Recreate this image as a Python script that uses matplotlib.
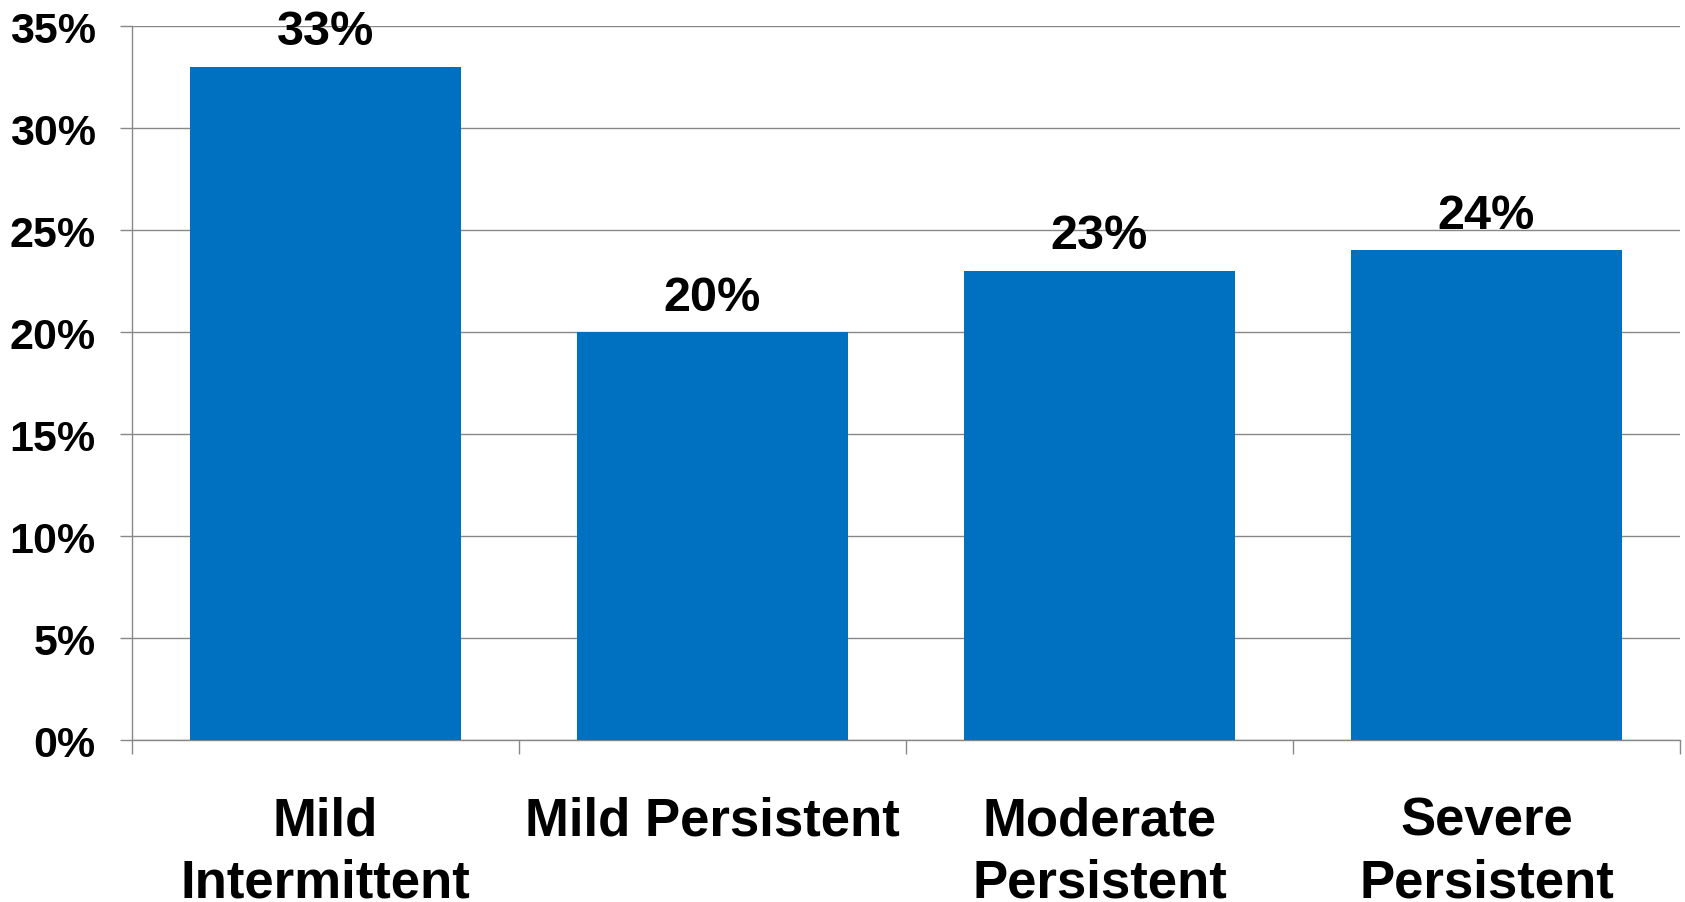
import numpy as np
import matplotlib.pyplot as plt

categories = ["Mild\nIntermittent", "Mild Persistent", "Moderate\nPersistent", "Severe\nPersistent"]
values = [33, 20, 23, 24]
yticks = [0, 5, 10, 15, 20, 25, 30, 35]

plt.rcParams['font.family'] = ['Liberation Sans', 'DejaVu Sans']
plt.rcParams['font.weight'] = 'bold'

fig = plt.figure(figsize=(16.85, 9.03), dpi=100)
ax = fig.add_axes([0.0783, 0.1794, 0.9187, 0.7906])

x = np.arange(len(categories))
bars = ax.bar(x, values, width=0.70, color='#0070C0', zorder=3)

for xi, v in zip(x, values):
    ax.annotate(f"{v}%", (xi, v), xytext=(0, 9), textcoords='offset points',
                ha='center', va='bottom', fontsize=35, fontweight='bold')

ax.set_ylim(0, 35)
ax.set_xlim(-0.5, len(categories) - 0.5)
ax.set_yticks(yticks)
ax.set_yticklabels([f"{t}%" for t in yticks], fontsize=31, fontweight='bold')
ax.yaxis.grid(True, color='#888888', linewidth=1.0, zorder=0)

ax.set_xticks(x)
ax.set_xticklabels(categories, fontsize=38, fontweight='bold', linespacing=1.3)
ax.set_xticks(np.arange(len(categories) + 1) - 0.5, minor=True)
ax.tick_params(axis='x', which='major', length=0, pad=40)
ax.tick_params(axis='x', which='minor', length=10, color='#888888', width=1.0)
ax.tick_params(axis='y', length=9, color='#888888', width=1.0, pad=17)

for s in ['top', 'right']:
    ax.spines[s].set_visible(False)
for s in ['left', 'bottom']:
    ax.spines[s].set_color('#888888')
    ax.spines[s].set_linewidth(1.0)

fig.savefig("out.png", dpi=100)
